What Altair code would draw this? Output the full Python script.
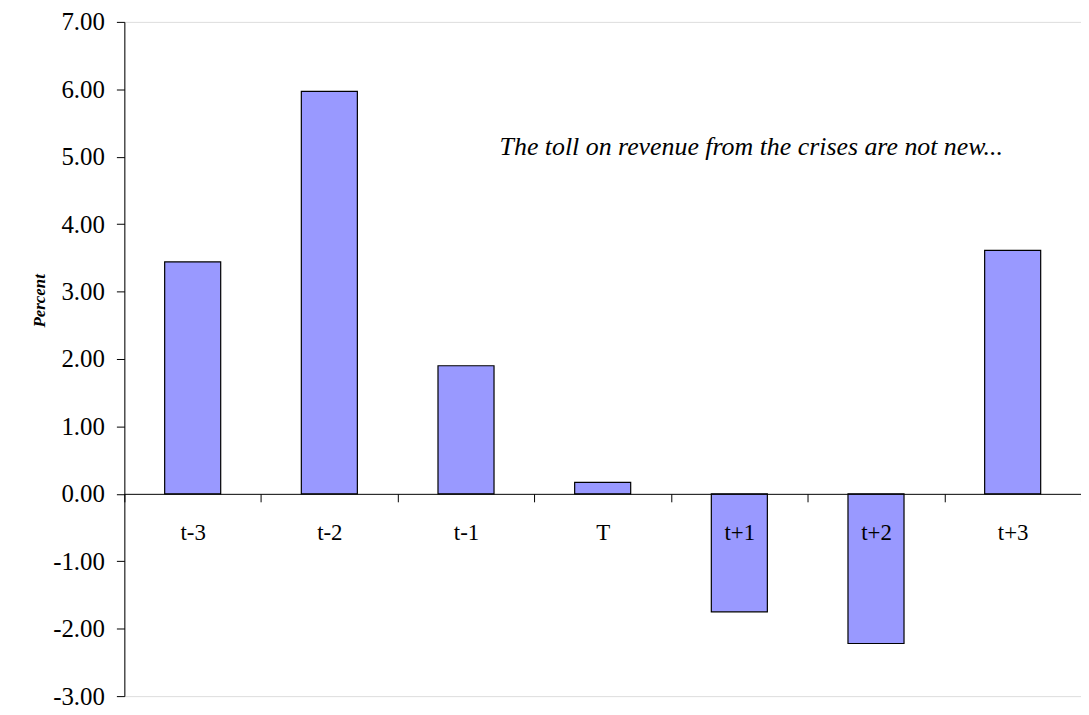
import altair as alt
import pandas as pd

categories = ["t-3", "t-2", "t-1", "T", "t+1", "t+2", "t+3"]
values = [3.44, 5.97, 1.90, 0.17, -1.75, -2.22, 3.61]
y_ticks = [-3, -2, -1, 0, 1, 2, 3, 4, 5, 6, 7]
note = "The toll on revenue from the crises are not new..."

df = pd.DataFrame({"cat": categories, "val": values})

W, H = 962, 678
ymin, ymax = -3, 7
zero_offset = -H * (0 - ymin) / (ymax - ymin)

serif = "Liberation Serif"

x_enc = alt.X(
    "cat:N",
    sort=categories,
    scale=alt.Scale(paddingInner=0, paddingOuter=0),
    axis=alt.Axis(
        title=None,
        offset=zero_offset,
        tickBand="extent",
        tickSize=8,
        tickColor="black",
        domainColor="black",
        labelAngle=0,
        labelFont=serif,
        labelFontSize=23,
        labelColor="black",
        labelPadding=20,
        zindex=2,
        grid=False,
    ),
)

y_enc = alt.Y(
    "val:Q",
    scale=alt.Scale(domain=[ymin, ymax], nice=False, zero=False),
    axis=alt.Axis(
        values=y_ticks,
        labelExpr="datum.value < 0 ? '-' + format(abs(datum.value), '.2f') : format(datum.value, '.2f')",
        title="Percent",
        titleFont=serif,
        titleFontStyle="italic",
        titleFontWeight="bold",
        titleFontSize=17,
        titleAngle=270,
        titleX=-85,
        titleY=280,
        titleAlign="center",
        titleBaseline="middle",
        titleColor="black",
        tickSize=8,
        tickColor="black",
        domainColor="black",
        labelFont=serif,
        labelFontSize=25,
        labelColor="black",
        labelPadding=12,
        labelBound=False,
        labelFlush=False,
        grid=False,
    ),
)

bars = alt.Chart(df).mark_bar(
    color="#9999FF", stroke="black", strokeWidth=1.2,
    width=alt.RelativeBandSize(0.41),
).encode(x=x_enc, y=y_enc)

text = alt.Chart(pd.DataFrame({"t": [note], "cat": ["t+1"], "val": [5.15]})).mark_text(
    font=serif, fontStyle="italic", fontSize=26, color="black", dx=12
).encode(
    x=alt.X("cat:N", sort=categories),
    y=alt.Y("val:Q"),
    text="t:N",
)

chart = (
    alt.layer(bars, text)
    .properties(
        width=W,
        height=H,
        autosize=alt.AutoSizeParams(type="none"),
        padding={"left": 117, "top": 12, "right": 0, "bottom": 12},
    )
    .configure_view(strokeWidth=0, stroke="transparent")
    .configure_axis(grid=False)
    .configure(background="white")
)

chart.save("out.html", embed_options={"renderer": "svg", "actions": False})
